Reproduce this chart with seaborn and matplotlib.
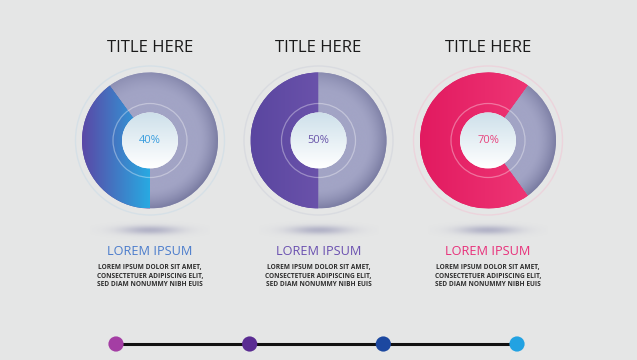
import numpy as np
import matplotlib
matplotlib.use("Agg")
import matplotlib.pyplot as plt
import seaborn as sns
import pandas as pd
from matplotlib.patches import Circle
from matplotlib.colors import to_rgb

# ---------------- data ----------------
titles = ["TITLE HERE", "TITLE HERE", "TITLE HERE"]
percents = [40, 50, 70]
headings = ["LOREM IPSUM", "LOREM IPSUM", "LOREM IPSUM"]
body_lines = ["LOREM IPSUM DOLOR SIT AMET,",
              "CONSECTETUER ADIPISCING ELIT,",
              "SED DIAM NONUMMY NIBH EUIS"]
timeline_steps = [1, 2, 3, 4]

# ---------------- style ----------------
BG = "#e5e6e6"
start_angles = [126, 90, 54]
grad_left = ["#5a48a6", "#5a46a0", "#e21a60"]
grad_right = ["#28aae2", "#6a52aa", "#f03a78"]
pct_colors = ["#3a9ede", "#6a56aa", "#e8447e"]
head_colors = ["#4b7ccc", "#6a50b0", "#e8307a"]
ring_colors = ["#d6e0e6", "#d9dbe0", "#ecd4dc"]
dot_colors = ["#a43ea4", "#5a2c92", "#1c48a0", "#22a2e2"]
grey_light = np.array(to_rgb("#a2a4c5"))
grey_dark = np.array(to_rgb("#7a7ca2"))

sns.set_theme(style="white")
plt.rcParams['font.family'] = ['Open Sans', 'DejaVu Sans']

W, H = 637, 360
fig = plt.figure(figsize=(6.37, 3.6), dpi=100, facecolor=BG)
ax = fig.add_axes([0, 0, 1, 1])
ax.set_facecolor(BG)


def Y(p):
    return H - p


centers_x = [150, 318.5, 488]
cy = Y(140.5)
R = 68
n = 400

for i, p in enumerate(percents):
    cx = centers_x[i]
    # outer faint ring
    ax.add_patch(Circle((cx, cy), 74.5, facecolor="none", edgecolor=ring_colors[i], lw=1.0, zorder=1))
    # shadow below
    xs = np.linspace(-60, 60, 240)
    ys = np.linspace(-12, 12, 60)
    XX, YY = np.meshgrid(xs, ys)
    a = np.exp(-((XX / 30) ** 2 + (YY / 4.5) ** 2))
    sh = np.zeros(XX.shape + (4,))
    sh[..., :3] = to_rgb("#8a8aae")
    sh[..., 3] = 0.55 * a
    ax.imshow(sh, extent=(cx - 60, cx + 60, Y(230) - 12, Y(230) + 12), origin="lower",
              interpolation="bilinear", zorder=1)

    wedges, _ = ax.pie([p, 100 - p], startangle=start_angles[i], counterclock=True,
                       center=(cx, cy), radius=R, colors=[grad_left[i], "#9a9cc0"],
                       wedgeprops=dict(linewidth=0), frame=True)
    for w in wedges:
        w.set_zorder(2)

    gx = np.linspace(cx - R, cx + R, n)
    gy = np.linspace(cy - R, cy + R, n)
    GX, GY = np.meshgrid(gx, gy)
    # coloured gradient, horizontal
    t = np.clip((GX - (cx - R)) / (1.0 * R), 0, 1)[..., None]
    if i == 2:
        t = np.clip((GX - (cx - R)) / (1.9 * R), 0, 1)[..., None]
    c0 = np.array(to_rgb(grad_left[i]))
    c1 = np.array(to_rgb(grad_right[i]))
    img = c0 * (1 - t) + c1 * t
    im = ax.imshow(img, extent=(cx - R, cx + R, cy - R, cy + R), origin="lower",
                   interpolation="bilinear", zorder=3)
    im.set_clip_path(wedges[0])
    # grey radial shading, darker toward the outer rim and bottom-right
    rr = np.sqrt((GX - cx) ** 2 + (GY - cy) ** 2) / R
    ang = np.arctan2(GY - cy, GX - cx)
    dirf = 0.75 + 0.25 * np.cos(ang + np.pi / 5)
    tt = np.clip((rr - 0.72) / 0.28, 0, 1) ** 1.5 * dirf
    tt = tt[..., None]
    gimg = grey_light * (1 - tt) + grey_dark * tt
    im2 = ax.imshow(gimg, extent=(cx - R, cx + R, cy - R, cy + R), origin="lower",
                    interpolation="bilinear", zorder=3)
    im2.set_clip_path(wedges[1])

    # middle faint ring
    ax.add_patch(Circle((cx, cy), 37, facecolor="none", edgecolor="white", alpha=0.35, lw=0.9, zorder=4))
    # inner white circle with vertical gradient
    r_in = 28
    ix = np.linspace(cx - r_in, cx + r_in, 200)
    iy = np.linspace(cy - r_in, cy + r_in, 200)
    IX, IY = np.meshgrid(ix, iy)
    tv = np.clip((IY - (cy - r_in)) / (2 * r_in), 0, 1)[..., None]
    top = np.array(to_rgb("#cde0ea"))
    bot = np.array(to_rgb("#ffffff"))
    iimg = bot * (1 - tv) + top * tv
    circ = Circle((cx, cy), r_in, facecolor="white", edgecolor="none", zorder=5)
    ax.add_patch(circ)
    im3 = ax.imshow(iimg, extent=(cx - r_in, cx + r_in, cy - r_in, cy + r_in), origin="lower",
                    interpolation="bilinear", zorder=6)
    im3.set_clip_path(circ)

    ax.text(cx, cy, f"{p}%", ha="center", va="center", fontsize=8, color=pct_colors[i], zorder=7)

    # texts
    ax.text(cx, Y(48), titles[i], ha="center", va="center", fontsize=12, color="#1a1a1a")
    ax.text(cx, Y(251.5), headings[i], ha="center", va="center", fontsize=9.2, color=head_colors[i])
    for k, line in enumerate(body_lines):
        ax.text(cx, Y(268 + k * 8.5), line, ha="center", va="center", fontsize=4.7,
                color="#2e2e2e", fontweight="bold")

# ---------------- timeline ----------------
x0, x1 = 116, 517
df = pd.DataFrame({"step": timeline_steps})
df["x"] = x0 + (df["step"] - 1) * (x1 - x0) / (len(timeline_steps) - 1)
df["y"] = Y(344)
sns.lineplot(data=df, x="x", y="y", color="#111111", lw=2.2, ax=ax, zorder=8)
sns.scatterplot(data=df, x="x", y="y", hue="step", palette=dot_colors, s=120,
                edgecolor="none", legend=False, ax=ax, zorder=9)

ax.set_xlim(0, W)
ax.set_ylim(0, H)
ax.set_aspect("auto")
ax.set_axis_off()
fig.savefig("out.png", dpi=100, facecolor=BG)
